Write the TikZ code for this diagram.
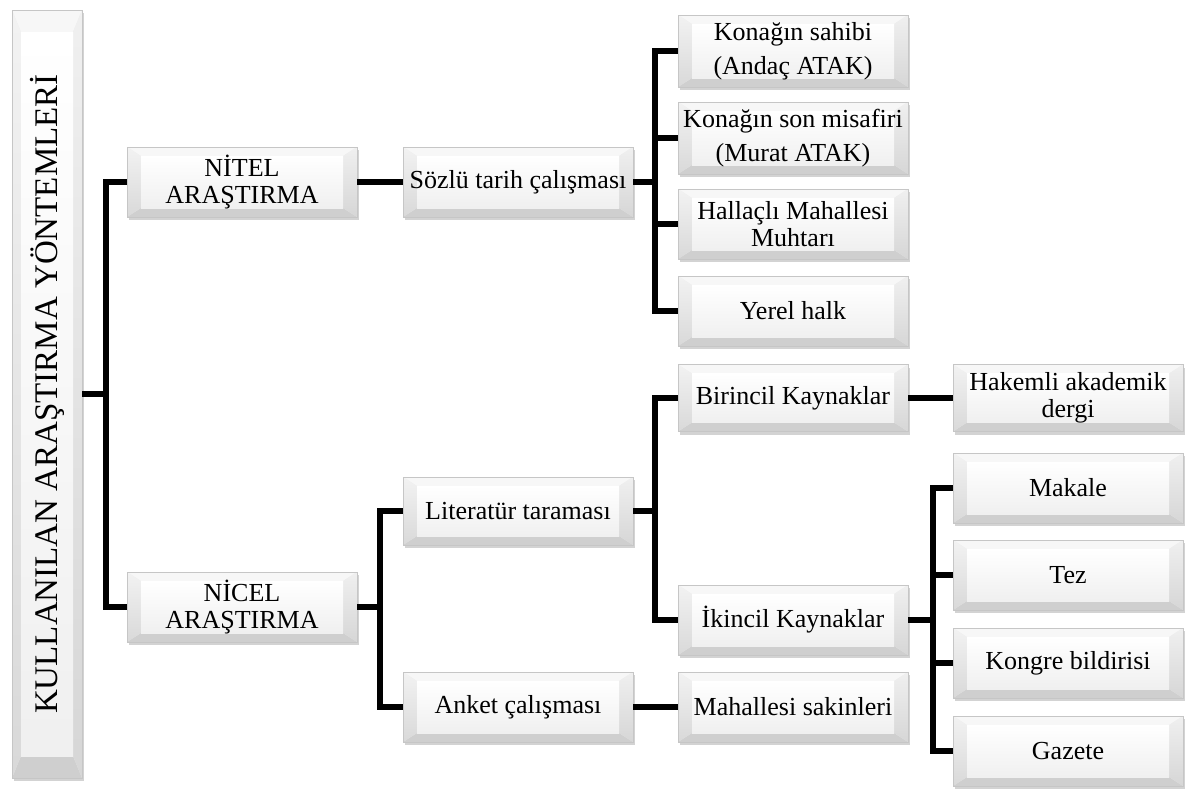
\documentclass[tikz,border=0pt]{standalone}
\usepackage{fontspec}
\setmainfont{Liberation Serif}
\usetikzlibrary{shadows}
\tikzset{
  bevel/.style 2 args={
    path picture={
      \coordinate (pnw) at (path picture bounding box.north west);
      \coordinate (pne) at (path picture bounding box.north east);
      \coordinate (psw) at (path picture bounding box.south west);
      \coordinate (pse) at (path picture bounding box.south east);
      \coordinate (inw) at ([xshift=#1,yshift=-#2]pnw);
      \coordinate (ine) at ([xshift=-#1,yshift=-#2]pne);
      \coordinate (isw) at ([xshift=#1,yshift=#2]psw);
      \coordinate (ise) at ([xshift=-#1,yshift=#2]pse);
      \fill[gray!6] (pnw) -- (pne) -- (ine) -- (inw) -- cycle;
      \fill[gray!38] (psw) -- (pse) -- (ise) -- (isw) -- cycle;
      \shade[top color=gray!10, bottom color=gray!30] (pnw) -- (inw) -- (isw) -- (psw) -- cycle;
      \shade[top color=gray!12, bottom color=gray!32] (pne) -- (ine) -- (ise) -- (pse) -- cycle;
      \shade[top color=white, bottom color=gray!12] (inw) rectangle (ise);
    }
  },
  box/.style={draw=gray!45, line width=0.4pt, fill=gray!15, minimum width=230pt,
    minimum height=70pt, inner sep=0pt, align=center,
    font=\fontsize{26}{27}\selectfont, bevel={14pt}{9pt},
    drop shadow={shadow xshift=2pt, shadow yshift=-3pt, opacity=0.35, fill=gray}},
  wide/.style={font=\fontsize{26}{34}\selectfont},
  conn/.style={line width=5.5pt, line join=miter}
}
\begin{document}
\begin{tikzpicture}[x=1pt,y=-1pt]
\useasboundingbox (0,0) rectangle (1185,788);
% root
\node[box, minimum width=70pt, minimum height=768pt, bevel={9pt}{22pt}] (root) at (47,394)
  {\rotatebox{90}{\fontsize{33}{37}\selectfont KULLANILAN ARAŞTIRMA YÖNTEMLERİ}};
% level 1
\node[box] (nitel) at (242,182) {NİTEL\\ARAŞTIRMA};
\node[box] (nicel) at (242,607) {NİCEL\\ARAŞTIRMA};
% level 2
\node[box] (sozlu) at (518,182) {Sözlü tarih çalışması};
\node[box, minimum height=68pt] (lit) at (518,511) {Literatür taraması};
\node[box] (anket) at (518,707) {Anket çalışması};
% level 3
\node[box, minimum height=72pt, wide] (kon1) at (793,51) {Konağın sahibi\\(Andaç ATAK)};
\node[box, minimum height=72pt, wide] (kon2) at (793,138) {Konağın son misafiri\\(Murat ATAK)};
\node[box] (hal) at (793,224) {Hallaçlı Mahallesi\\Muhtarı};
\node[box] (yer) at (793,311) {Yerel halk};
\node[box, minimum height=67pt] (bir) at (793,398) {Birincil Kaynaklar};
\node[box] (iki) at (793,620) {İkincil Kaynaklar};
\node[box] (mah) at (793,707) {Mahallesi sakinleri};
% level 4
\node[box, minimum height=67pt] (hak) at (1068,398) {Hakemli akademik\\dergi};
\node[box] (mak) at (1068,488) {Makale};
\node[box] (tez) at (1068,575) {Tez};
\node[box] (kon) at (1068,663) {Kongre bildirisi};
\node[box] (gaz) at (1068,751) {Gazete};
% connectors
\coordinate (j1) at (106,0);
\coordinate (j2) at (380,0);
\coordinate (j3) at (655,0);
\coordinate (j4) at (933,0);
\draw[conn] (root.east) -- (root.east -| j1);
\draw[conn] (nitel.west) -- (nitel.west -| j1) -- (nicel.west -| j1) -- (nicel.west);
\draw[conn] (nitel.east) -- (sozlu.west);
\draw[conn] (sozlu.east) -- (sozlu.east -| j3);
\draw[conn] (kon1.west) -- (kon1.west -| j3) -- (yer.west -| j3) -- (yer.west);
\draw[conn] (kon2.west) -- (kon2.west -| j3);
\draw[conn] (hal.west) -- (hal.west -| j3);
\draw[conn] (nicel.east) -- (nicel.east -| j2);
\draw[conn] (lit.west) -- (lit.west -| j2) -- (anket.west -| j2) -- (anket.west);
\draw[conn] (lit.east) -- (lit.east -| j3);
\draw[conn] (bir.west) -- (bir.west -| j3) -- (iki.west -| j3) -- (iki.west);
\draw[conn] (bir.east) -- (hak.west);
\draw[conn] (anket.east) -- (mah.west);
\draw[conn] (iki.east) -- (iki.east -| j4);
\draw[conn] (mak.west) -- (mak.west -| j4) -- (gaz.west -| j4) -- (gaz.west);
\draw[conn] (tez.west) -- (tez.west -| j4);
\draw[conn] (kon.west) -- (kon.west -| j4);
\end{tikzpicture}
\end{document}
